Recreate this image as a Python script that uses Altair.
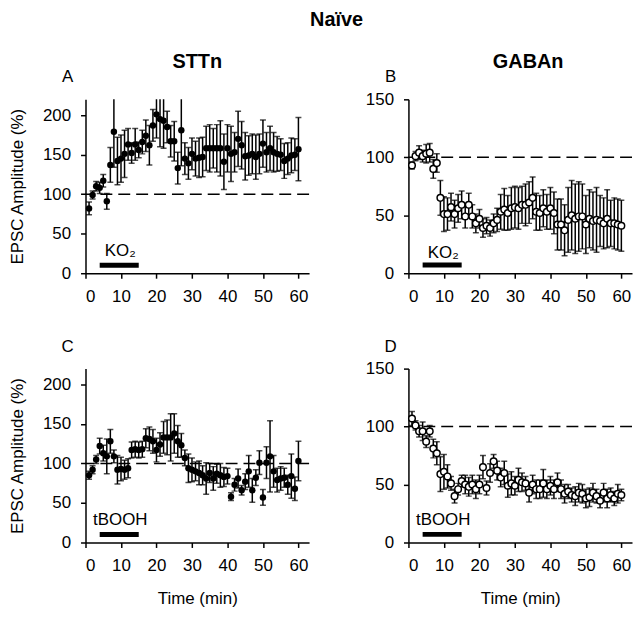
import altair as alt
import pandas as pd

# ---------------- data ----------------
time_min = list(range(1, 61))

sttn_ko2_mean = [82, 99, 110, 108, 117, 91, 137, 179, 142, 145, 151, 163, 152, 163, 156, 166, 174, 162, 187, 201,
                 195, 193, 185, 167, 167, 133, 181, 145, 139, 151, 145, 146, 147, 158, 158, 158, 158, 158, 141, 158,
                 151, 153, 170, 162, 148, 149, 151, 147, 151, 164, 153, 158, 153, 151, 150, 142, 145, 149, 150, 157]
sttn_ko2_sem = [8, 5, 6, 7, 8, 10, 22, 45, 30, 30, 30, 20, 13, 20, 10, 15, 20, 25, 20, 30,
                35, 35, 20, 20, 25, 20, 45, 20, 20, 20, 22, 25, 25, 28, 30, 25, 30, 35, 35, 30,
                35, 25, 35, 30, 30, 25, 25, 28, 25, 30, 25, 28, 25, 22, 20, 22, 20, 22, 20, 40]

gaban_ko2_mean = [93, 101, 104, 101, 103, 104, 90, 95, 65, 51, 51, 57, 51, 56, 59, 49, 59, 49, 43, 47,
                  39, 41, 39, 43, 46, 53, 55, 52, 56, 57, 56, 59, 59, 61, 65, 53, 52, 56, 53, 56,
                  52, 42, 42, 37, 46, 50, 47, 49, 49, 42, 47, 45, 46, 45, 43, 47, 43, 43, 42, 41]
gaban_ko2_sem = [3, 4, 6, 5, 8, 8, 8, 8, 15, 15, 14, 12, 12, 12, 12, 10, 10, 10, 8, 8,
                 8, 7, 7, 8, 10, 15, 18, 15, 18, 18, 18, 16, 18, 18, 18, 16, 15, 16, 15, 18,
                 18, 22, 22, 22, 28, 30, 30, 30, 28, 25, 25, 25, 28, 22, 22, 25, 20, 22, 22, 22]

sttn_tbooh_mean = [85, 92, 105, 122, 113, 109, 128, 109, 92, 93, 92, 94, 117, 118, 117, 118, 132, 131, 128, 117,
                   124, 133, 133, 133, 138, 128, 123, 107, 94, 92, 90, 88, 85, 81, 88, 81, 87, 85, 83, 84,
                   58, 73, 81, 66, 77, 90, 66, 82, 101, 57, 101, 109, 90, 79, 81, 82, 73, 84, 68, 103]
sttn_tbooh_sem = [5, 5, 5, 10, 10, 22, 15, 8, 18, 15, 12, 12, 10, 10, 10, 10, 12, 15, 15, 15,
                  15, 20, 22, 30, 25, 20, 15, 10, 18, 15, 12, 15, 12, 20, 12, 15, 12, 15, 12, 10,
                  5, 8, 12, 6, 10, 20, 15, 10, 15, 10, 20, 45, 20, 15, 15, 12, 12, 28, 15, 25]

gaban_tbooh_mean = [107, 101, 96, 96, 87, 96, 81, 77, 59, 61, 57, 51, 40, 46, 53, 50, 48, 50, 46, 50,
                    65, 47, 60, 70, 62, 56, 60, 49, 51, 49, 54, 52, 51, 43, 50, 46, 46, 51, 46, 49,
                    46, 52, 46, 42, 44, 41, 40, 43, 42, 38, 39, 43, 40, 36, 43, 38, 41, 38, 42, 41]
gaban_tbooh_sem = [6, 4, 5, 8, 5, 5, 8, 10, 15, 15, 10, 6, 6, 5, 5, 8, 8, 8, 8, 8,
                   10, 6, 8, 6, 8, 8, 10, 10, 10, 8, 10, 8, 6, 8, 8, 8, 8, 12, 8, 8,
                   8, 8, 8, 8, 6, 6, 8, 8, 8, 8, 8, 8, 6, 6, 8, 8, 6, 6, 8, 5]

x_ticks = [0, 10, 20, 30, 40, 50, 60]
drug_start = 4
drug_end = 15
baseline_level = 100

FONT = "Liberation Sans"


def panel(mean, sem, ymax, yticks, filled, letter, drug, bar_y, text_y,
          col_title=None, col_dx=0, ytitle=False, xtitle=False):
    df = pd.DataFrame({
        "t": time_min,
        "v": mean,
        "lo": [m - s for m, s in zip(mean, sem)],
        "hi": [m + s for m, s in zip(mean, sem)],
    })

    xs = alt.Scale(domain=[0, 63], nice=False, zero=False)
    ys = alt.Scale(domain=[0, ymax], nice=False)
    xaxis = alt.Axis(values=x_ticks, title="Time (min)" if xtitle else None)
    yaxis = alt.Axis(values=yticks, title="EPSC Amplitude (%)" if ytitle else None)

    def X(f):
        return alt.X(f"{f}:Q", scale=xs, axis=xaxis)

    def Y(f):
        return alt.Y(f"{f}:Q", scale=ys, axis=yaxis)

    dash = alt.Chart(pd.DataFrame({"y": [baseline_level]})).mark_rule(
        color="black", strokeWidth=1.5, strokeDash=[12, 6]
    ).encode(y=Y("y"))

    bars = alt.Chart(df).mark_rule(color="black", strokeWidth=1.5, clip=True).encode(
        x=X("t"), y=Y("lo"), y2="hi")
    cap_lo = alt.Chart(df).mark_tick(color="black", thickness=1.5, size=6, orient="horizontal",
                                     clip=True).encode(x=X("t"), y=Y("lo"))
    cap_hi = alt.Chart(df).mark_tick(color="black", thickness=1.5, size=6, orient="horizontal",
                                     clip=True).encode(x=X("t"), y=Y("hi"))
    if filled:
        pts = alt.Chart(df).mark_circle(color="black", size=42, opacity=1).encode(x=X("t"), y=Y("v"))
    else:
        pts = alt.Chart(df).mark_point(shape="circle", size=44, fill="white", fillOpacity=1,
                                       stroke="black", strokeWidth=1.5, opacity=1, filled=False
                                       ).encode(x=X("t"), y=Y("v"))

    drug_df = pd.DataFrame({"x0": [drug_start], "x1": [drug_end], "yb": [bar_y],
                            "xt": [(drug_start + drug_end) / 2 + 0.3], "yt": [text_y], "lab": [drug]})
    drug_bar = alt.Chart(drug_df).mark_rule(color="black", strokeWidth=5, strokeCap="butt").encode(
        x=X("x0"), x2="x1", y=Y("yb"))
    drug_txt = alt.Chart(drug_df).mark_text(font=FONT, fontSize=17, color="black",
                                            baseline="middle", align="center").encode(
        x=X("xt"), y=Y("yt"), text="lab:N")

    let = alt.Chart(pd.DataFrame({"a": [0]})).mark_text(
        font=FONT, fontSize=17, color="black", align="center", baseline="middle"
    ).encode(x=alt.value(-18), y=alt.value(-22), text=alt.value(letter))

    ch = alt.layer(dash, bars, cap_lo, cap_hi, pts, drug_bar, drug_txt, let)
    props = dict(width=225, height=175)
    if col_title:
        props["title"] = alt.TitleParams(col_title, font=FONT, fontSize=20, fontWeight="bold",
                                         color="black", offset=-3, dx=col_dx)
    return ch.properties(**props)


pA = panel(sttn_ko2_mean, sttn_ko2_sem, 220, [0, 50, 100, 150, 200], True, "A", "KO₂", 10, 28,
           col_title="STTn", ytitle=True)
pB = panel(gaban_ko2_mean, gaban_ko2_sem, 150, [0, 50, 100, 150], False, "B", "KO₂", 7, 17,
           col_title="GABAn", col_dx=8)
pC = panel(sttn_tbooh_mean, sttn_tbooh_sem, 220, [0, 50, 100, 150, 200], True, "C", "tBOOH", 10, 28,
           ytitle=True, xtitle=True)
pD = panel(gaban_tbooh_mean, gaban_tbooh_sem, 150, [0, 50, 100, 150], False, "D", "tBOOH", 7, 19,
           xtitle=True)

chart = alt.concat(pA, pB, pC, pD, columns=2, spacing={"row": 96, "column": 100},
                   bounds="flush").properties(
    title=alt.TitleParams("Naïve", font=FONT, fontSize=20, fontWeight="bold", color="black",
                          anchor="middle", offset=22, dx=16),
    padding={"left": 0, "top": 0, "right": 0, "bottom": 0},
).configure_axis(
    labelFont=FONT, labelFontSize=17, labelColor="black", labelPadding=10,
    titleFont=FONT, titleFontSize=17, titleFontWeight="normal", titleColor="black",
    domainColor="black", domainWidth=1.5, tickColor="black", tickWidth=1.5, tickSize=5,
    grid=False,
).configure_axisX(titlePadding=17).configure_axisY(titlePadding=16).configure_view(stroke=None)

chart.save("out.html", embed_options={"renderer": "svg", "actions": False})
